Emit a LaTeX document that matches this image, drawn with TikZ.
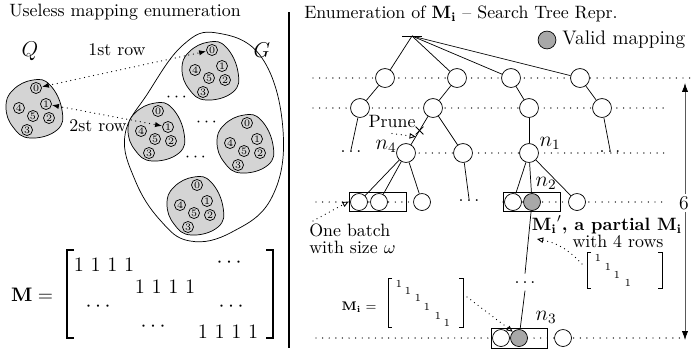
\documentclass[tikz,border=0pt]{standalone}
\usepackage{amsmath}
\usetikzlibrary{arrows.meta,shapes.misc}
\definecolor{blobgray}{gray}{0.83}
\definecolor{validgray}{gray}{0.66}
\newcommand{\miptext}{\textbf{$\mathbf{M_i}'$, a partial $\mathbf{M_i}$}}
\newcommand{\sdots}{.\hspace{1.6pt}.\hspace{1.6pt}.}
\begin{document}
\begin{tikzpicture}[x=0.56pt,y=-0.56pt,
  font=\fontsize{10}{12}\selectfont,
  qc/.style={circle,draw,inner sep=0pt,minimum size=6.2pt,font=\fontsize{5.5}{6}\selectfont},
  tnode/.style={circle,draw,fill=white,inner sep=0pt,minimum size=10.6pt},
  bnode/.style={circle,draw,fill=white,inner sep=0pt,minimum size=9.5pt},
  valid/.style={fill=validgray},
  batchbox/.style={draw,inner sep=0pt,minimum width=31.9pt,minimum height=10.6pt},
  level/.style={line width=0.8pt,line cap=round,dash pattern=on 0pt off 3.7pt},
  dotleft/.style={line width=0.7pt,line cap=round,dash pattern=on 0pt off 2.6pt,{Latex[length=4pt,width=3pt]}-{Latex[length=4pt,width=3pt]}},
  dotopen/.style={line width=0.7pt,line cap=round,dash pattern=on 0pt off 2.6pt,-{Triangle[open,length=3.5pt,width=3pt,line width=0.5pt]}},
  dotsn/.style={inner sep=0.5pt},
  nlab/.style={font=\fontsize{12}{14}\selectfont},
  tinyone/.style={font=\fontsize{6}{6}\selectfont,inner sep=0pt},
  blob/.pic={
    \draw[fill=blobgray] plot[smooth cycle,tension=0.75] coordinates {(-1,-28) (16,-23) (28,2) (23,22) (-4,30) (-21,19) (-28,-1) (-21,-18)};
    \node[qc] (-0) at (2,-20) {0};
    \node[qc] (-1) at (12,-4) {1};
    \node[qc] (-4) at (-15,0) {4};
    \node[qc] (-5) at (-1,8) {5};
    \node[qc] (-2) at (15,10) {2};
    \node[qc] (-3) at (-7,22) {3};
  }
]
\useasboundingbox (0,0) rectangle (691,350);

% ---------------- left part ----------------
\node[anchor=west] (ltitle) at (3,12) {Useless mapping enumeration};
\node[font=\fontsize{13}{15}\selectfont] (qlab) at (30,51) {$Q$};
\node[font=\fontsize{13}{15}\selectfont] (glab) at (262,50) {$G$};

\draw plot[smooth cycle,tension=0.7] coordinates {(217,33) (262,58) (283,130) (272,197) (232,232) (190,241) (160,220) (135,180) (125,135) (148,93) (183,45)};

\pic (Q) at (34,108) {blob};
\pic (B1) at (210,70) {blob};
\pic (B2) at (156,131) {blob};
\pic (B3) at (245,143) {blob};
\pic (B4) at (195,205) {blob};

\node[dotsn] (gd1) at (178,98) {$\cdots$};
\node[dotsn] (gd2) at (208,123) {$\cdots$};
\node[dotsn] (gd3) at (197,158) {$\cdots$};

\draw[dotleft] (Q-0) -- (B1-0);
\draw[dotleft] (Q-1) -- (B2-1);
\node (row1) at (117,50) {1st row};
\node (row2) at (98,126) {2st row};

% matrix M
\node[font=\fontsize{11}{13}\selectfont] (mlab) at (32,295) {$\mathbf{M} =$};
\draw[line width=0.6pt] (74,250) -- (67,250) -- (67,338) -- (74,338);
\draw[line width=0.6pt] (266,250) -- (273,250) -- (273,338) -- (266,338);
\begin{scope}[font=\fontsize{11.5}{13}\selectfont]
\node (r1a) at (104,265) {1\ 1\ 1\ 1};
\node (r1b) at (231,263) {$\cdots$};
\node (r2a) at (165,287) {1\ 1\ 1\ 1};
\node (r3a) at (100,307) {$\cdots$};
\node (r3b) at (233,307) {$\cdots$};
\node (r4a) at (155,327) {$\cdots$};
\node (r4b) at (228,332) {1\ 1\ 1\ 1};
\end{scope}

% separator
\draw[line width=1.2pt] (289,12) -- (289,348);

% ---------------- right part ----------------
\node[anchor=west] (rtitle) at (298,14) {Enumeration of $\mathbf{M_i}$ -- Search Tree Repr.};
\node[tnode,valid,minimum size=10pt] (leg) at (547,40) {};
\node[anchor=west,font=\fontsize{11}{13}\selectfont] (legt) at (556,40) {Valid mapping};

% level lines
\draw[level] (313,78) -- (690,78);
\draw[level] (313,108) -- (668,108);
\draw[level] (406,153) -- (668,153);
\draw[level] (316,202) -- (430,202);
\draw[level] (503,202) -- (668,202);
\draw[level] (316,338) -- (681,338);

% root
\coordinate (root) at (412,36);
\draw (402,36) -- (422,36);

\node[tnode] (a1) at (385,78) {};
\node[tnode] (a2) at (457,78) {};
\node[tnode] (a3) at (511,78) {};
\node[tnode] (a4) at (580,78) {};
\node[tnode] (b1) at (360,108) {};
\node[tnode] (b2) at (433,108) {};
\node[tnode] (b3) at (529,108) {};
\node[tnode] (b4) at (602,108) {};
\node[dotsn] (d1) at (351,152) {\sdots};
\node[tnode] (c1) at (406,153) {};
\node[tnode] (c2) at (463,153) {};
\node[tnode] (c3) at (529,153) {};
\node[dotsn] (d2) at (610,152) {\sdots};

\node[batchbox] (boxL) at (377.5,201.5) {};
\node[bnode] (e1) at (359,202) {};
\node[bnode] (e2) at (379,202) {};
\node[bnode] (e3) at (422,202) {};
\node[dotsn] (d3) at (469,201) {\sdots};
\node[batchbox] (boxR) at (531.5,201.5) {};
\node[bnode] (f1) at (513,202) {};
\node[bnode,valid] (f2) at (532,202) {};
\node[bnode] (f3) at (577,202) {};
\node[dotsn] (d4) at (525,283) {\sdots};
\node[batchbox,minimum width=31.4pt,minimum height=11.2pt] (boxB) at (519,338) {};
\node[bnode] (g1) at (501,338) {};
\node[bnode,valid] (g2) at (519,338) {};
\node[bnode] (g3) at (563,338) {};

\foreach \t in {a1,a2,a3,a4} \draw (root) -- (\t);
\draw (a1) -- (b1);
\draw (a2) -- (b2);
\draw (a3) -- (b3);
\draw (a4) -- (b4);
\draw (b1) -- (d1.north);
\draw (b2) -- node[pos=0.5,cross out,draw,minimum size=4pt,inner sep=0pt] (cut) {} coordinate[pos=0.72] (prunept) (c1);
\draw (b2) -- (c2);
\draw (b3) -- (c3);
\draw (b4) -- (d2.north);
\draw (c1) -- (e1);
\draw (c1) -- (e2);
\draw (c1) -- (e3);
\draw (c2) -- (d3.north);
\draw (c3) -- (f1);
\draw (c3) -- (f2);
\draw (c3) -- (f3);
\draw (f2) -- ([yshift=4pt]d4.north);
\draw ([yshift=-3pt]d4.south) -- (g2);

% labels
\node[nlab] (n4) at (386,146) {$n_4$};
\node[nlab] (n1) at (550,143) {$n_1$};
\node[nlab] (n2) at (546,183) {$n_2$};
\node[nlab] (n3) at (546,317) {$n_3$};
\node (prune) at (392,121) {Prune};
\draw[dotopen] (prune.south) -- (prunept);

\node[anchor=west] (batch1) at (303,230) {One batch};
\node[anchor=west] (batch2) at (303,247) {with size $\omega$};
\coordinate (batchfrom) at (313,221);
\draw[dotopen] (batchfrom) -- (boxL.west);

\node (mip) at (607,225) {\miptext};
\node (rows4) at (618,241) {with 4 rows};

% small matrix Mi'
\draw[line width=0.5pt] (591,252) -- (587,252) -- (587,288) -- (591,288);
\draw[line width=0.5pt] (658,252) -- (662,252) -- (662,288) -- (658,288);
\node[tinyone] (p1) at (598,258) {1};
\node[tinyone] (p2) at (608,267) {1};
\node[tinyone] (p3) at (617,275) {1};
\node[tinyone] (p4) at (628,283) {1};
\coordinate (mipfrom) at (582,264);
\coordinate (mipto) at (537,239);
\draw[dotopen] (mipfrom) to[bend right=18] (mipto);

% matrix Mi
\node[font=\fontsize{7}{8}\selectfont] (milab) at (359,307) {$\mathbf{M_i} =$};
\draw[line width=0.5pt] (392,278) -- (388,278) -- (388,327) -- (392,327);
\draw[line width=0.5pt] (459,278) -- (463,278) -- (463,327) -- (459,327);
\node[tinyone] (m1) at (399,284) {1};
\node[tinyone] (m2) at (408,291) {1};
\node[tinyone] (m3) at (418,298) {1};
\node[tinyone] (m4) at (427,307) {1};
\node[tinyone] (m5) at (438,316) {1};
\node[tinyone] (m6) at (447,323) {1};
\coordinate (mifrom) at (467,297);
\draw[dotopen] (mifrom) -- (g2.north west);

% depth arrow
\coordinate (dtop) at (685,83);
\coordinate (dbot) at (685,340);
\draw[black!65,{Latex[length=5pt,width=3.5pt,black]}-{Latex[length=5pt,width=3.5pt,black]}] (dtop) -- (dbot);
\node[fill=white,inner sep=1pt,font=\fontsize{11}{13}\selectfont] (six) at (684,203) {6};
\end{tikzpicture}
\end{document}
